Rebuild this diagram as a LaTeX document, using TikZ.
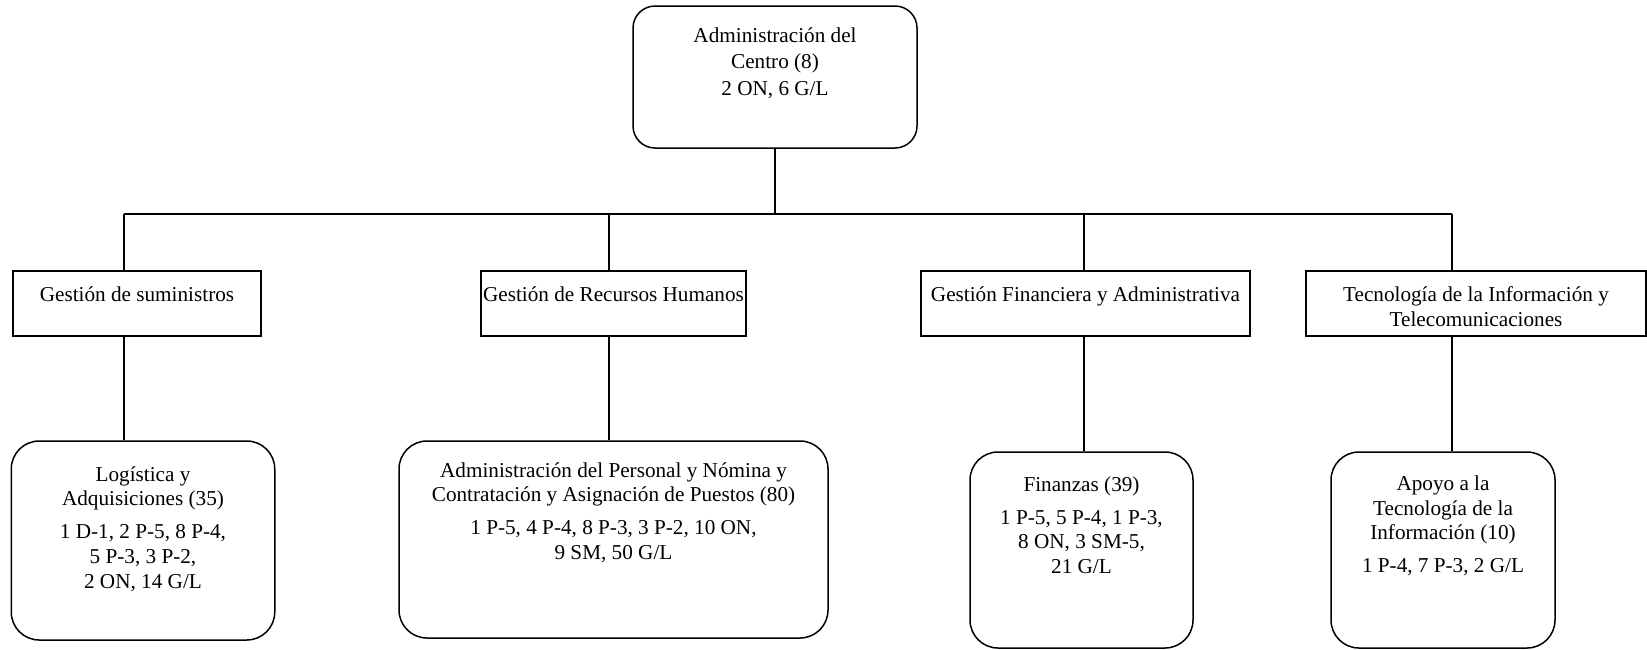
\documentclass[tikz,border=0pt]{standalone}
\usepackage{fontspec}
\setmainfont{Liberation Serif}
\usetikzlibrary{positioning}

\begin{document}
\begin{tikzpicture}[%
    x=0.5pt, y=-0.5pt,          % Coordinates in pixels
    line width=0.75pt,          % One weight for boxes and connectors
    ]
% -------------------------------------------------
% Box styles: the boxes are empty, their text is set in a second
% node hung from the top edge, so that it sits high in the box
\tikzset{
  base/.style={draw, inner sep=0pt},
  unit/.style={base, rectangle, minimum height=32.5pt},
  office/.style={base, rectangle, rounded corners=14pt},
  txt/.style={align=center, inner sep=0pt, font={\fontsize{10.6}{12.3}\selectfont}},
  % Connector line style
  link/.style={draw},
}
\useasboundingbox (0,0) rectangle (1647,649);
% -------------------------------------------------
% Head of the chart
\node [office, rounded corners=11pt, minimum width=142pt, minimum height=71pt] (ac) at (775,77) {};
\node [txt, below=10.75pt of ac.north] (ac-t) {Administración del\\[0.6pt]Centro (8)\\[1.2pt]2 ON, 6 G/L};
% -------------------------------------------------
% Second row: the four sections
\node [unit, minimum width=124pt] (sum) at (137,303.5) {};
\node [unit, minimum width=132.5pt] (rrhh) at (613.5,303.5) {};
\node [unit, minimum width=164.5pt] (fin) at (1085.5,303.5) {};
\node [unit, minimum width=170pt] (tic) at (1476,303.5) {};
\node [txt, below=7.75pt of sum.north] (sum-t) {Gestión de suministros};
\node [txt, below=7.75pt of rrhh.north] (rrhh-t) {Gestión de Recursos Humanos};
\node [txt, below=7.75pt of fin.north] (fin-t) {Gestión Financiera y Administrativa};
\node [txt, below=7.75pt of tic.north] (tic-t) {Tecnología de la Información y\\Telecomunicaciones};
% -------------------------------------------------
% Third row: the units with their posts
\node [office, minimum width=131.75pt, minimum height=99.5pt] (log) at (143,540.5) {};
\node [office, minimum width=214.5pt, minimum height=98.5pt] (per) at (613.5,539.5) {};
\node [office, minimum width=111.5pt, minimum height=98pt] (fza) at (1081.5,550) {};
\node [office, minimum width=112pt, minimum height=98pt] (apo) at (1443,550) {};
\node [txt, below=12.75pt of log.north] (log-t)
  {Logística y\\Adquisiciones (35)\\[4.2pt]1 D-1, 2 P-5, 8 P-4,\\5 P-3, 3 P-2,\\2 ON, 14 G/L};
\node [txt, below=10.75pt of per.north] (per-t)
  {Administración del Personal y Nómina y\\Contratación y Asignación de Puestos (80)\\[4.2pt]1 P-5, 4 P-4, 8 P-3, 3 P-2, 10 ON,\\9 SM, 50 G/L};
\node [txt, below=12.25pt of fza.north] (fza-t)
  {Finanzas (39)\\[4.2pt]1 P-5, 5 P-4, 1 P-3,\\8 ON, 3 SM-5,\\21 G/L};
\node [txt, below=12pt of apo.north] (apo-t)
  {Apoyo a la\\Tecnología de la\\Información (10)\\[4.2pt]1 P-4, 7 P-3, 2 G/L};
% -------------------------------------------------
% Connectors: one bus under the head, then a drop per column
\coordinate (b1) at (124,214);
\coordinate (b2) at (609,214);
\coordinate (b3) at (1084,214);
\coordinate (b4) at (1452,214);
\draw [link] (ac.south) -- (ac.south |- b1);
\draw [link] (b1) -- (b4);
\foreach \b/\m/\u in {b1/sum/log, b2/rrhh/per, b3/fin/fza, b4/tic/apo} {
  \draw [link] (\b) -- (\b |- \m.north);
  \draw [link] (\b |- \m.south) -- (\b |- \u.north);
}
% -------------------------------------------------
\end{tikzpicture}
\end{document}
